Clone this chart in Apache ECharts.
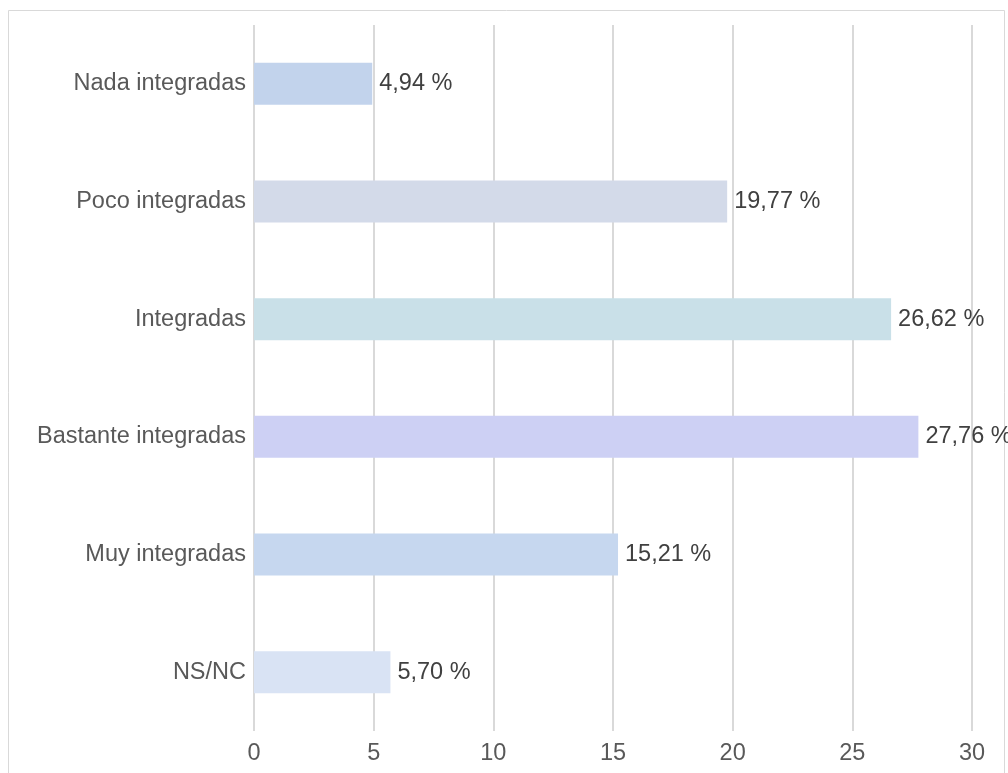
<!DOCTYPE html>
<html>
<head>
<meta charset="utf-8">
<script src="https://cdn.jsdelivr.net/npm/echarts@6/dist/echarts.min.js"></script>
<style>
html,body{margin:0;padding:0;background:#fff;}
#chart{width:1008px;height:773px;}
</style>
</head>
<body>
<div id="chart"></div>
<script>
const categories = ['Nada integradas', 'Poco integradas', 'Integradas', 'Bastante integradas', 'Muy integradas', 'NS/NC'];
const values = [4.94, 19.77, 26.62, 27.76, 15.21, 5.70];
const barColors = ['#c2d3ec', '#d3dae9', '#c9e0e8', '#cdd0f4', '#c6d7ef', '#d9e3f4'];
const axisMin = 0, axisMax = 30, axisStep = 5;

const font = 'Liberation Sans, Arial, sans-serif';
const fs = 23.5;
const chart = echarts.init(document.getElementById('chart'), null, {renderer: 'canvas'});
chart.setOption({
  animation: false,
  backgroundColor: '#ffffff',
  graphic: [{
    type: 'rect', silent: true, z: -1,
    shape: {x: 8.5, y: 10.5, width: 996, height: 800},
    style: {fill: 'none', stroke: '#d9d9d9', lineWidth: 1}
  }],
  grid: {left: 254, right: 36, top: 25, bottom: 42, containLabel: false},
  xAxis: {
    type: 'value', min: axisMin, max: axisMax, interval: axisStep,
    axisLine: {show: false}, axisTick: {show: false},
    axisLabel: {color: '#595959', fontSize: fs, fontFamily: font, margin: 11},
    splitLine: {show: true, lineStyle: {color: '#d9d9d9', width: 2}}
  },
  yAxis: {
    type: 'category', data: categories, inverse: true,
    axisLine: {show: false}, axisTick: {show: false},
    axisLabel: {color: '#595959', fontSize: fs, fontFamily: font, margin: 8}
  },
  series: [{
    type: 'bar',
    barWidth: '35.7%',
    data: values.map((v, i) => ({value: v, itemStyle: {color: barColors[i]}})),
    label: {
      show: true, position: 'right', distance: 7,
      color: '#404040', fontSize: fs, fontFamily: font,
      formatter: p => p.value.toFixed(2).replace('.', ',') + ' %'
    }
  }]
});
</script>
</body>
</html>
